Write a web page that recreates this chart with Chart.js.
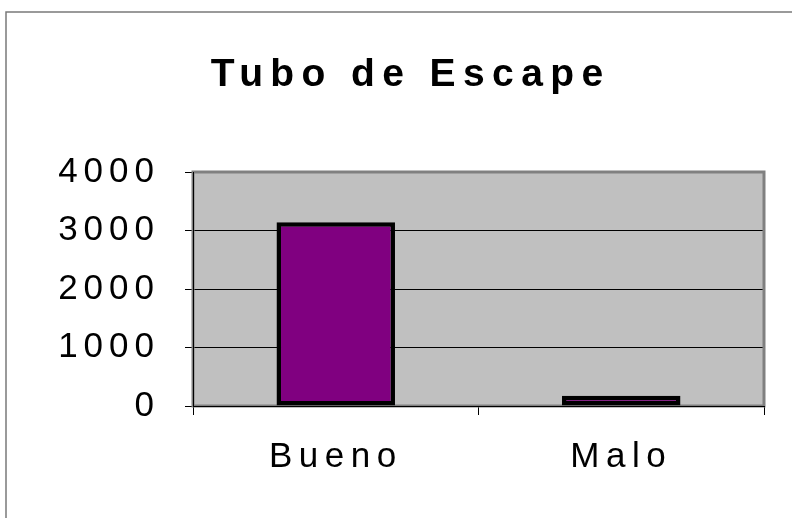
<!DOCTYPE html>
<html>
<head>
<meta charset="utf-8">
<script src="https://cdn.jsdelivr.net/npm/chart.js@4/dist/chart.umd.min.js"></script>
<style>
  html, body { margin: 0; padding: 0; background: #ffffff; }
  canvas { display: block; }
</style>
</head>
<body>
<canvas id="c" width="792" height="518"></canvas>
<script>
const chartTitle = 'Tubo de Escape';
const categories = ['Bueno', 'Malo'];
const values = [3140, 175];
const yTicks = [0, 1000, 2000, 3000, 4000];

const FONT = "'Liberation Sans', Arial, sans-serif";
const TITLE_SPACING = '7.4px';

function spacedLabels(scale, spacing) {
  if (scale._spacedWrap) return;
  const orig = scale.drawLabels;
  scale.drawLabels = function (area) {
    const ctx = this.ctx;
    const prev = ctx.letterSpacing;
    ctx.letterSpacing = spacing;
    orig.call(this, area);
    ctx.letterSpacing = prev;
  };
  scale._spacedWrap = true;
}

const decorPlugin = {
  id: 'decor',
  beforeUpdate(c) { c.ctx.letterSpacing = TITLE_SPACING; },
  beforeLayout(c) { c.ctx.letterSpacing = TITLE_SPACING; },
  beforeDraw(c) {
    const ctx = c.ctx;
    ctx.letterSpacing = TITLE_SPACING;
    const a = c.chartArea;
    ctx.save();
    ctx.strokeStyle = '#7a7a7a';
    ctx.lineWidth = 1.5;
    ctx.beginPath();
    ctx.moveTo(6, c.height + 5);
    ctx.lineTo(6, 12);
    ctx.lineTo(c.width + 5, 12);
    ctx.stroke();
    ctx.fillStyle = '#c0c0c0';
    ctx.fillRect(a.left, a.top, a.right - a.left, a.bottom - a.top);
    ctx.restore();
  },
  beforeDatasetsDraw(c) {
    const ctx = c.ctx;
    const a = c.chartArea;
    ctx.save();
    ctx.strokeStyle = '#808080';
    ctx.lineWidth = 3;
    ctx.strokeRect(a.left, a.top, a.right - a.left, a.bottom - a.top);
    ctx.restore();
  }
};

new Chart(document.getElementById('c'), {
  type: 'bar',
  data: {
    labels: categories,
    datasets: [{
      data: values,
      backgroundColor: '#800080',
      borderColor: '#000000',
      borderWidth: 4.5,
      borderSkipped: false,
      barPercentage: 0.415,
      categoryPercentage: 1.0
    }]
  },
  options: {
    responsive: false,
    animation: false,
    devicePixelRatio: 1,
    layout: { padding: { left: 57.4, right: 28, top: 0, bottom: 0 } },
    plugins: {
      legend: { display: false },
      tooltip: { enabled: false },
      title: {
        display: true,
        text: chartTitle,
        color: '#000000',
        font: { family: FONT, size: 39, weight: 'bold', lineHeight: 1.2 },
        padding: { top: 52.1, bottom: 73.1 }
      }
    },
    scales: {
      x: {
        grid: {
          display: true,
          offset: true,
          drawOnChartArea: false,
          drawTicks: true,
          tickLength: 9,
          tickColor: '#000000',
          color: '#000000'
        },
        border: { display: true, color: '#000000', width: 1, z: 1 },
        ticks: {
          color: '#000000',
          padding: 21,
          maxRotation: 0,
          font: { family: FONT, size: 35, lineHeight: 1.2 }
        },
        afterFit(scale) { scale.height = 112; spacedLabels(scale, '6.5px'); }
      },
      y: {
        min: yTicks[0],
        max: yTicks[yTicks.length - 1],
        afterBuildTicks(scale) { scale.ticks = yTicks.map(v => ({ value: v })); },
        grid: {
          display: true,
          drawTicks: true,
          tickLength: 8,
          tickColor: '#000000',
          color: '#000000',
          lineWidth: 1
        },
        border: { display: true, color: '#000000', width: 1, z: 1 },
        ticks: {
          color: '#000000',
          padding: 25,
          font: { family: FONT, size: 35, lineHeight: 1.2 },
          callback: (v) => String(v)
        },
        afterFit(scale) { scale.width = 135.6; spacedLabels(scale, '6px'); }
      }
    }
  },
  plugins: [decorPlugin]
});
</script>
</body>
</html>
